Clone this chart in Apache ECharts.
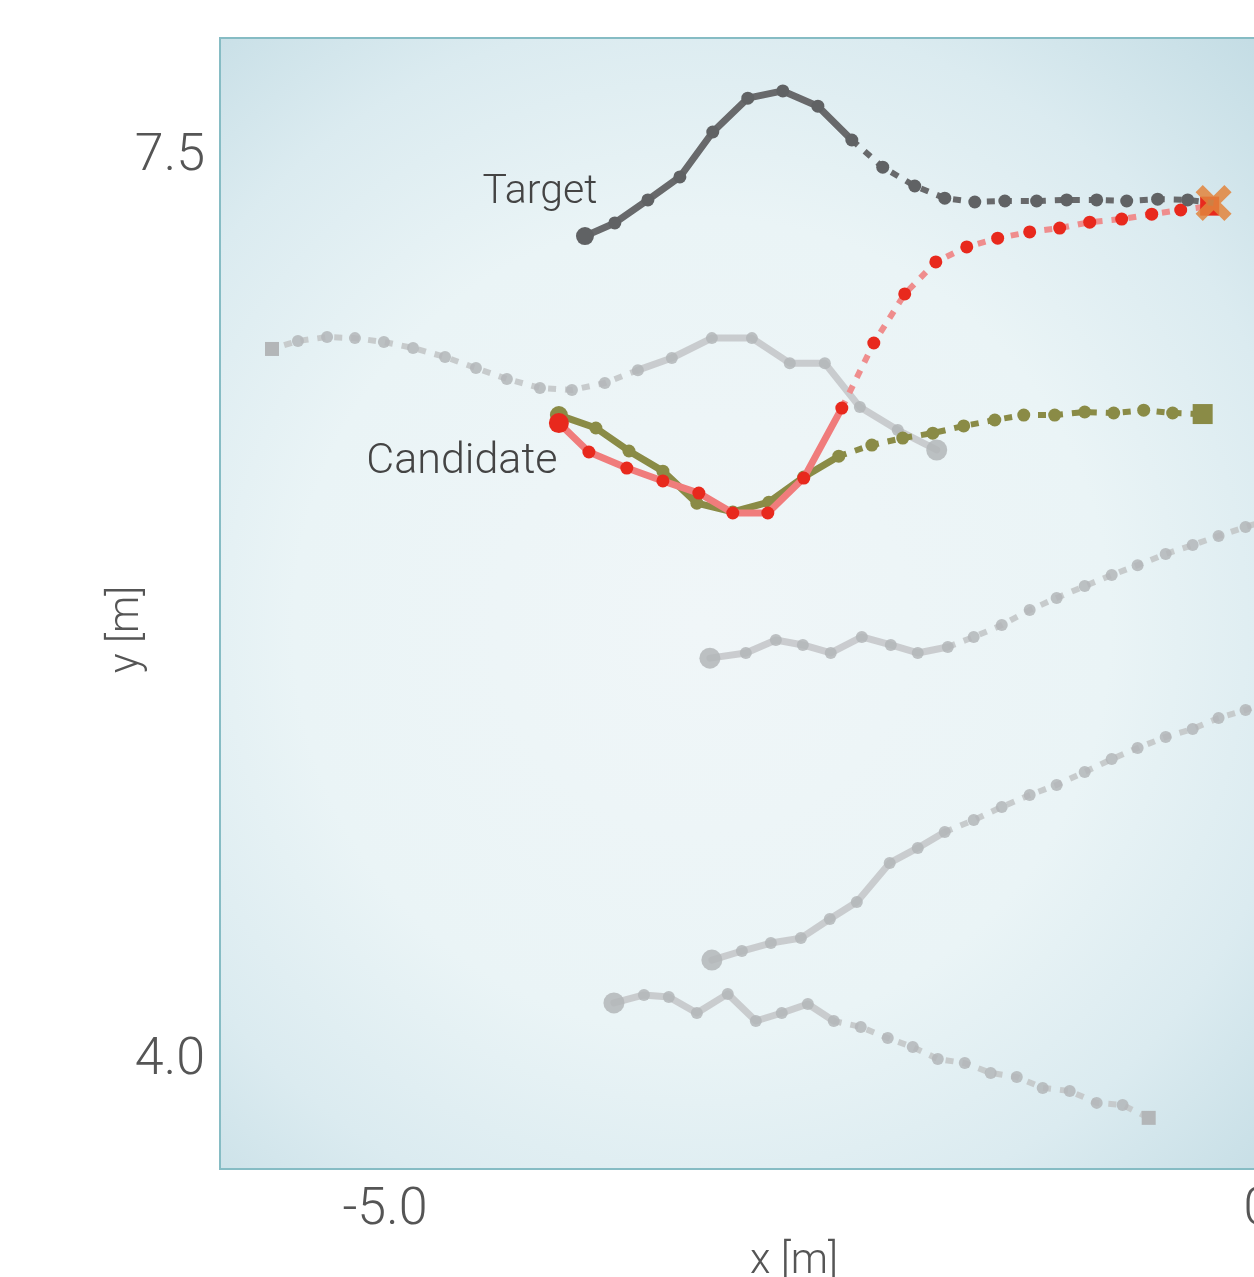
<!DOCTYPE html>
<html>
<head>
<meta charset="utf-8">
<script src="https://cdn.jsdelivr.net/npm/echarts@6/dist/echarts.min.js"></script>
<style>
  html, body { margin: 0; padding: 0; background: #ffffff; }
  #chart { width: 1254px; height: 1277px; }
</style>
</head>
<body>
<div id="chart"></div>
<script>
// Axis ticks (metres)
const xTicks = [-5.0, 0.0];
const yTicks = [4.0, 7.5];

// Target agent: observed history and predicted continuation
const targetPast = [[-3.881,7.194],[-3.714,7.245],[-3.529,7.334],[-3.350,7.423],[-3.166,7.597],[-2.970,7.728],[-2.774,7.756],[-2.578,7.697],[-2.388,7.566]];
const targetFuture = [[-2.215,7.461],[-2.036,7.388],[-1.868,7.341],[-1.700,7.326],[-1.532,7.330],[-1.354,7.330],[-1.186,7.334],[-1.018,7.334],[-0.850,7.330],[-0.677,7.337],[-0.509,7.334],[-0.364,7.322]];

// Candidate (red): history and prediction
const redPast = [[-4.027,6.470],[-3.859,6.358],[-3.647,6.296],[-3.445,6.246],[-3.244,6.199],[-3.054,6.122],[-2.858,6.122],[-2.657,6.257],[-2.444,6.528]];
const redFuture = [[-2.265,6.780],[-2.092,6.970],[-1.918,7.094],[-1.745,7.152],[-1.572,7.186],[-1.393,7.210],[-1.225,7.225],[-1.057,7.248],[-0.878,7.260],[-0.710,7.279],[-0.548,7.295],[-0.386,7.310]];

// Candidate (olive): history and prediction
const greenPast = [[-4.027,6.501],[-3.820,6.451],[-3.635,6.362],[-3.445,6.284],[-3.255,6.160],[-3.054,6.126],[-2.852,6.164],[-2.657,6.261],[-2.461,6.342]];
const greenFuture = [[-2.276,6.385],[-2.103,6.412],[-1.935,6.431],[-1.762,6.459],[-1.588,6.482],[-1.426,6.501],[-1.253,6.501],[-1.085,6.513],[-0.923,6.509],[-0.755,6.520],[-0.593,6.509],[-0.425,6.505]];

// Surrounding agents
const agentAPast = [[-1.913,6.366],[-2.131,6.443],[-2.343,6.532],[-2.539,6.702],[-2.735,6.702],[-2.947,6.799],[-3.171,6.799],[-3.395,6.722],[-3.585,6.675]];
const agentAFuture = [[-3.770,6.625],[-3.954,6.598],[-4.133,6.606],[-4.318,6.641],[-4.491,6.683],[-4.664,6.726],[-4.843,6.761],[-5.006,6.784],[-5.168,6.799],[-5.324,6.803],[-5.487,6.788],[-5.632,6.757]];

const agentBPast = [[-3.182,5.560],[-2.981,5.580],[-2.813,5.630],[-2.662,5.611],[-2.506,5.580],[-2.332,5.642],[-2.170,5.611],[-2.019,5.580],[-1.851,5.603]];
const agentBFuture = [[-1.706,5.642],[-1.549,5.688],[-1.393,5.746],[-1.242,5.793],[-1.085,5.839],[-0.934,5.882],[-0.789,5.920],[-0.632,5.963],[-0.481,5.998],[-0.336,6.033],[-0.185,6.068],[-0.028,6.102]];

const agentCPast = [[-3.171,4.391],[-3.003,4.426],[-2.841,4.457],[-2.673,4.476],[-2.511,4.550],[-2.360,4.616],[-2.176,4.767],[-2.019,4.825],[-1.868,4.887]];
const agentCFuture = [[-1.706,4.933],[-1.549,4.984],[-1.393,5.030],[-1.242,5.069],[-1.085,5.119],[-0.934,5.169],[-0.789,5.212],[-0.632,5.255],[-0.481,5.286],[-0.336,5.328],[-0.185,5.359],[-0.034,5.398]];

const agentDPast = [[-3.719,4.225],[-3.551,4.256],[-3.412,4.248],[-3.255,4.186],[-3.082,4.260],[-2.925,4.155],[-2.780,4.186],[-2.634,4.221],[-2.489,4.155]];
const agentDFuture = [[-2.338,4.132],[-2.187,4.089],[-2.047,4.054],[-1.907,4.008],[-1.756,3.992],[-1.611,3.954],[-1.465,3.938],[-1.320,3.896],[-1.169,3.884],[-1.018,3.838],[-0.873,3.830],[-0.727,3.780]];

const FONT = 'Roboto, Lato, "Open Sans", sans-serif';
const CROSS = 'path://M0,2 L2,0 L5,3 L8,0 L10,2 L7,5 L10,8 L8,10 L5,7 L2,10 L0,8 L3,5 Z';

// One trajectory = solid history line + dashed prediction line, both with point markers
function track(past, future, s) {
  const pastData = past.map((p, i) => {
    const item = { value: p, symbolSize: i === 0 ? s.startSize : s.dot };
    if (i === 0 && s.label) item.label = s.label;
    return item;
  });
  const futData = [{ value: past[past.length - 1], symbolSize: 0 }].concat(
    future.map((p, i) => i === future.length - 1
      ? { value: p, symbol: s.endSymbol, symbolSize: s.endSize,
          itemStyle: { color: s.endColor || s.dotColor, opacity: s.endOpacity || 1 } }
      : { value: p, symbolSize: s.dot })
  );
  const common = {
    type: 'line', symbol: 'circle', showSymbol: true, showAllSymbol: true,
    silent: true, emphasis: { disabled: true }, animation: false, z: s.z
  };
  return [
    Object.assign({}, common, {
      data: pastData,
      lineStyle: { color: s.line, width: s.width, opacity: s.lineOpacity || 1, cap: 'round', join: 'round' },
      itemStyle: { color: s.dotColor, opacity: s.dotOpacity || 1 }
    }),
    Object.assign({}, common, {
      data: futData,
      lineStyle: { color: s.dash, width: s.dashWidth, type: [8, 9], opacity: s.lineOpacity || 1 },
      itemStyle: { color: s.dotColor, opacity: s.dotOpacity || 1 }
    })
  ];
}

const grayStyle = {
  line: '#c5c8ca', dash: '#c3c6c8', width: 7, dashWidth: 6, lineOpacity: 0.9,
  dotColor: '#b3b6b8', dotOpacity: 0.85, dot: 12, startSize: 21,
  endSymbol: 'rect', endSize: 14, z: 2
};

const labelText = { show: true, position: 'inside', fontFamily: FONT, fontWeight: 300,
  fontSize: 41, color: '#444444' };

const series = [].concat(
  track(agentAPast, agentAFuture, grayStyle),
  track(agentBPast, agentBFuture, Object.assign({}, grayStyle, { endSymbol: 'circle', endSize: 12 })),
  track(agentCPast, agentCFuture, Object.assign({}, grayStyle, { endSymbol: 'circle', endSize: 12 })),
  track(agentDPast, agentDFuture, grayStyle),
  track(greenPast, greenFuture, {
    line: '#8a8b46', dash: '#8a8b46', width: 7, dashWidth: 6,
    dotColor: '#8a8b46', dot: 13, startSize: 18, endSymbol: 'rect', endSize: 20, z: 3
  }),
  track(redPast, redFuture, {
    line: '#f07c7c', dash: '#ef8d8d', width: 7, dashWidth: 6,
    dotColor: '#e8291d', dot: 13, startSize: 20, endSymbol: 'rect', endSize: 19, z: 4,
    label: Object.assign({}, labelText, { fontSize: 43, formatter: 'Candidate', offset: [-97, 39] })
  }),
  track(targetPast, targetFuture, {
    line: '#68696b', dash: '#68696b', width: 7, dashWidth: 6,
    dotColor: '#606264', dot: 13, startSize: 18,
    endSymbol: CROSS, endSize: 36, endColor: '#e2843c', endOpacity: 0.85, z: 5,
    label: Object.assign({}, labelText, { formatter: 'Target', offset: [-45, -43] })
  })
);

const chart = echarts.init(document.getElementById('chart'), null, { renderer: 'canvas' });
chart.setOption({
  animation: false,
  backgroundColor: '#ffffff',
  grid: {
    left: 220, top: 38, width: 1148, height: 1131,
    outerBoundsMode: 'none',
    show: true,
    borderColor: '#86bcc4', borderWidth: 2,
    backgroundColor: {
      type: 'radial', x: 0.42, y: 0.52, r: 0.72,
      colorStops: [
        { offset: 0, color: '#f0f6f8' },
        { offset: 0.5, color: '#eaf4f6' },
        { offset: 0.75, color: '#dbebf0' },
        { offset: 1, color: '#c3dce4' }
      ]
    }
  },
  xAxis: {
    type: 'value', min: -5.923, max: 0.5,
    axisLine: { show: false }, axisTick: { show: false }, splitLine: { show: false },
    axisLabel: {
      customValues: xTicks, formatter: v => v.toFixed(1),
      fontFamily: FONT, fontWeight: 300, fontSize: 52, color: '#555555', margin: 16
    },
    name: 'x [m]', nameLocation: 'middle', nameGap: 72,
    nameTextStyle: { fontFamily: FONT, fontWeight: 300, fontSize: 42, color: '#555555' }
  },
  yAxis: {
    type: 'value', min: 3.582, max: 7.961,
    axisLine: { show: false }, axisTick: { show: false }, splitLine: { show: false },
    axisLabel: {
      customValues: yTicks, formatter: v => v.toFixed(1),
      fontFamily: FONT, fontWeight: 300, fontSize: 52, color: '#555555', margin: 15
    },
    name: 'y [m]', nameLocation: 'middle', nameGap: 72, nameMoveOverlap: false,
    nameTextStyle: { fontFamily: FONT, fontWeight: 300, fontSize: 42, color: '#555555',
      padding: [0, 52, 0, 0] }
  },
  series: series
});
</script>
</body>
</html>
